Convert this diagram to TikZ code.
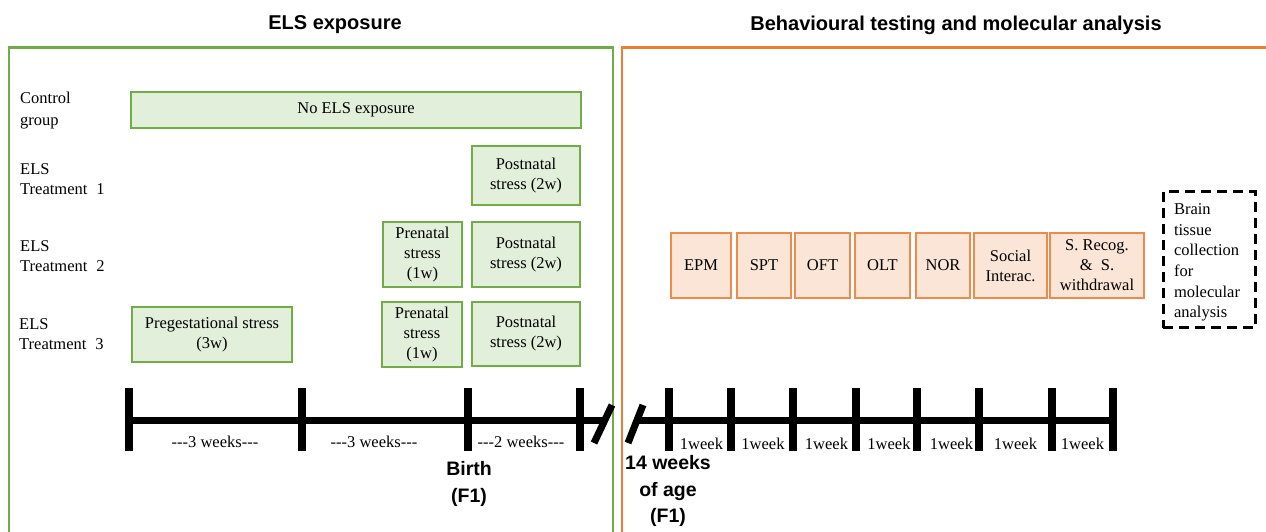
\documentclass[tikz,border=0pt]{standalone}
\usepackage{fontspec}
\setmainfont{Liberation Serif}
\newfontfamily\headsans{Liberation Sans}
\definecolor{gline}{HTML}{70AD47}
\definecolor{gfill}{HTML}{E2EFDA}
\definecolor{oline}{HTML}{ED7D31}
\definecolor{oboxline}{HTML}{F08A4B}
\definecolor{ofill}{HTML}{FBE5D6}
\tikzset{
  txt/.style={font=\fontsize{16.5}{20}\selectfont, inner sep=0pt, align=center},
  lbl/.style={font=\fontsize{16.5}{20}\selectfont, inner sep=0pt, align=left, anchor=west},
  gbox/.style={txt, draw=gline, fill=gfill, line width=1.6pt},
  obox/.style={txt, draw=oboxline, fill=ofill, line width=1.6pt},
  headline/.style={font=\headsans\bfseries\fontsize{20}{24}\selectfont, inner sep=0pt},
  marker/.style={font=\headsans\bfseries\fontsize{19.5}{26.5}\selectfont, inner sep=0pt, align=center},
  axis/.style={line width=7pt},
  tick/.style={line width=8pt},
  brk/.style={line width=7pt},
}
\begin{document}
\begin{tikzpicture}[x=1pt,y=-1pt]
\useasboundingbox (0,0) rectangle (1266,532);
\clip (0,0) rectangle (1266,532);

% panel frames
\draw[gline, line width=2.6pt] (9,560) -- (9,47.5) -- (613,47.5) -- (613,560);
\draw[oline, line width=2.6pt] (622,560) -- (622,47.5) -- (1290,47.5);

% panel headings
\node[headline] (h1) at (335,25) {ELS exposure};
\node[headline] (h2) at (956,25) {Behavioural testing and molecular analysis};

% group labels
\node[lbl, font=\fontsize{16.5}{22}\selectfont] (g0) at (20,111) {Control\\group};
\node[lbl] (g1) at (20,179) {ELS\\Treatment\hspace{0.55em}1};
\node[lbl] (g2) at (20,256) {ELS\\Treatment\hspace{0.55em}2};
\node[lbl] (g3) at (19,334) {ELS\\Treatment\hspace{0.55em}3};

% ELS exposure boxes
\node[gbox, minimum width=450pt, minimum height=36pt] (noels) at (356,110) {No ELS exposure};
\node[gbox, minimum width=108pt, minimum height=59pt] (post1) at (526,175.5) {Postnatal\\stress (2w)};
\node[gbox, minimum width=79pt, minimum height=65pt] (pre2) at (422.5,254.5) {Prenatal\\stress\\(1w)};
\node[gbox, minimum width=108pt, minimum height=65pt] (post2) at (526,254.5) {Postnatal\\stress (2w)};
\node[gbox, minimum width=160pt, minimum height=55pt] (preg3) at (212,334.5) {Pregestational stress\\(3w)};
\node[gbox, minimum width=80pt, minimum height=65pt] (pre3) at (422,334.5) {Prenatal\\stress\\(1w)};
\node[gbox, minimum width=108pt, minimum height=64pt] (post3) at (526,334) {Postnatal\\stress (2w)};

% behavioural tests
\node[obox, minimum width=60pt, minimum height=65pt] (epm) at (701,265.5) {EPM};
\node[obox, minimum width=54pt, minimum height=65pt] (spt) at (764,265.5) {SPT};
\node[obox, minimum width=55pt, minimum height=65pt] (oft) at (822.5,265.5) {OFT};
\node[obox, minimum width=55pt, minimum height=65pt] (olt) at (882.5,265.5) {OLT};
\node[obox, minimum width=54pt, minimum height=65pt] (nor) at (943,265.5) {NOR};
\node[obox, minimum width=73pt, minimum height=65pt] (soc) at (1010.5,265.5) {Social\\Interac.};
\node[obox, minimum width=94pt, minimum height=65pt] (srec) at (1097,265.5) {S. Recog.\\\&\ \ S.\\withdrawal};

% molecular analysis
\node[draw, line width=3pt, dash pattern=on 10pt off 6pt, minimum width=92pt, minimum height=136pt,
      inner sep=0pt] (brain) at (1209,259.5) {};
\node[text width=70pt, align=left, inner sep=0pt, font=\fontsize{16.5}{20.6}\selectfont] (braintext) at (1209,262.5)
  {Brain\\tissue\\collection\\for\\molecular\\analysis};

% timeline before birth
\coordinate (a0) at (129,420);
\coordinate (a1) at (302,420);
\coordinate (a2) at (468,420);
\coordinate (a3) at (580,420);
\coordinate (aend) at (603,420);
\draw[axis] (a0) -- (aend);
\foreach \p in {a0,a1,a2,a3} \draw[tick] ([yshift=-31pt]\p) -- ([yshift=32pt]\p);
\coordinate (s1a) at (594,443);
\coordinate (s1b) at (612,405);
\draw[brk] (s1a) -- (s1b);

\node[txt] (w1) at (215,442) {-{}-{}-3 weeks-{}-{}-};
\node[txt] (w2) at (374,442) {-{}-{}-3 weeks-{}-{}-};
\node[txt] (w3) at (521,442) {-{}-{}-2 weeks-{}-{}-};
\node[marker] (birth) at (469,484) {Birth\\(F1)};

% timeline from 14 weeks of age
\coordinate (s2a) at (628,443);
\coordinate (s2b) at (643,405);
\draw[brk] (s2a) -- (s2b);
\coordinate (bstart) at (634,420);
\coordinate (b0) at (669,420);
\coordinate (b1) at (731,420);
\coordinate (b2) at (793,420);
\coordinate (b3) at (856,420);
\coordinate (b4) at (917,420);
\coordinate (b5) at (979,420);
\coordinate (b6) at (1052,420);
\coordinate (b7) at (1113,420);
\draw[axis] (bstart) -- (b7);
\foreach \p in {b0,b1,b2,b3,b4,b5,b6,b7} \draw[tick] ([yshift=-31pt]\p) -- ([yshift=32pt]\p);

\foreach \x/\n in {701.5/k1,763/k2,826.5/k3,889/k4,951.5/k5,1015.5/k6,1082.5/k7}
  \node[txt] (\n) at (\x,444) {1week};

\node[marker] (age) at (668,491) {14 weeks\\of age\\(F1)};
\end{tikzpicture}
\end{document}
